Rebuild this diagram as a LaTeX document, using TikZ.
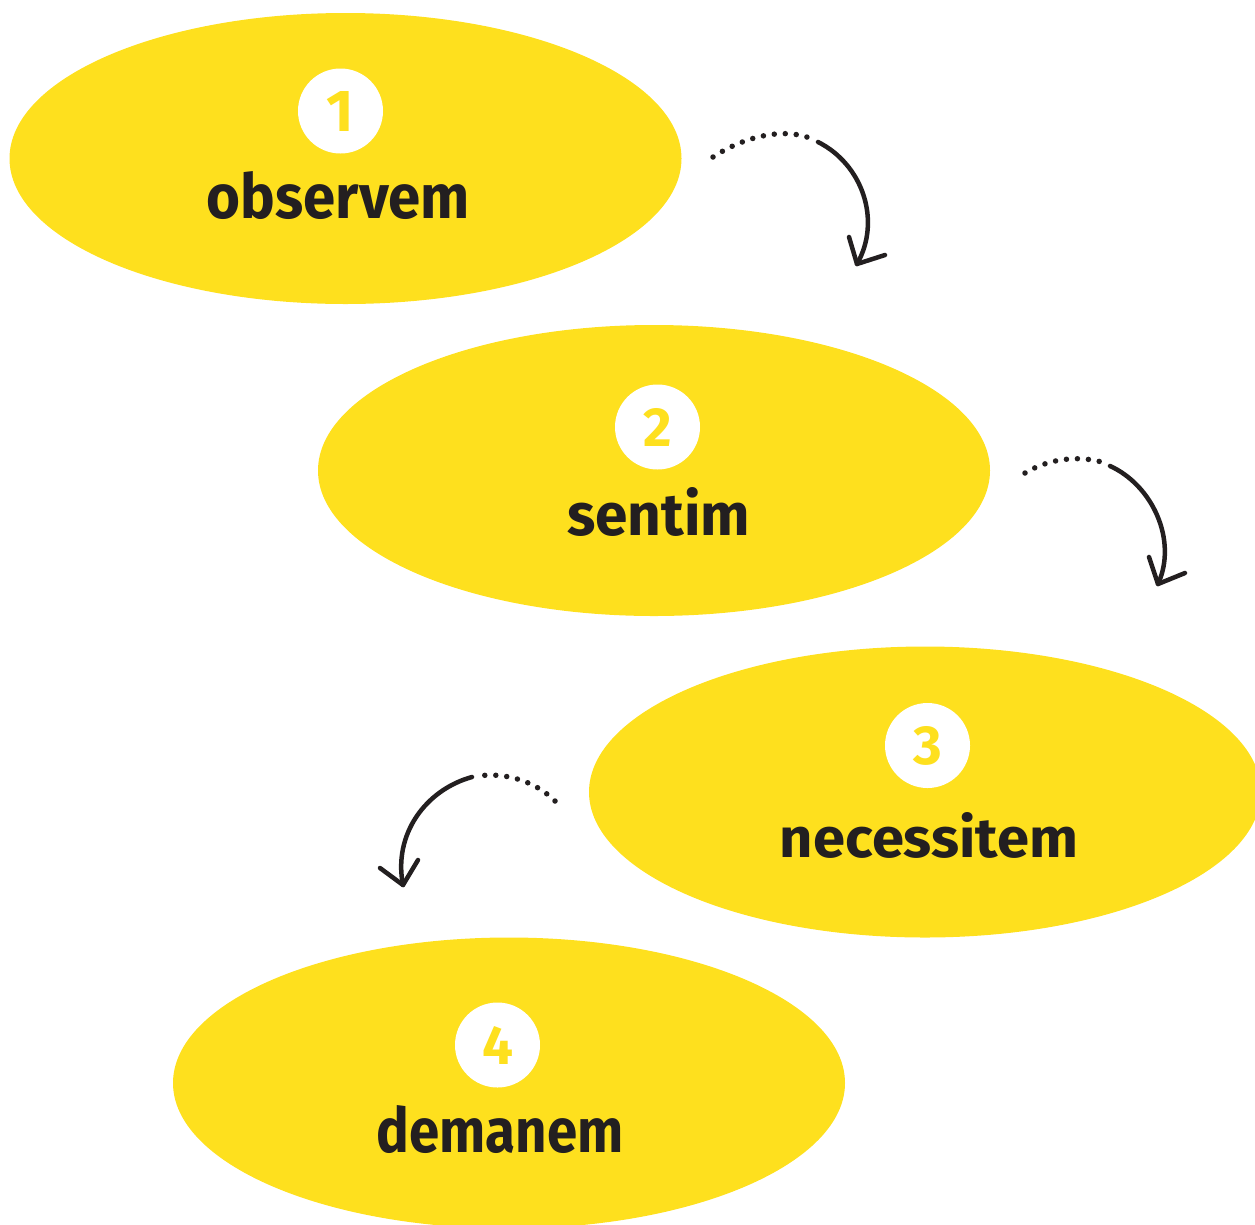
\documentclass[tikz,border=0pt]{standalone}
\usepackage{fontspec}
\setmainfont{Fira Sans}
\usetikzlibrary{shapes.geometric}
\definecolor{sun}{HTML}{FEE01E}
\definecolor{ink}{HTML}{231F20}
\tikzset{
  blob/.style={ellipse, fill=sun, draw=none, minimum width=672pt, minimum height=291pt, inner sep=0pt},
  badge/.style={circle, fill=white, draw=none, minimum size=85pt, inner sep=0pt, text=sun, font=\bfseries},
  word/.style={inner sep=0pt, text=ink, font=\bfseries},
  dots/.style={ink, line width=5.5pt, line cap=round, dash pattern=on 0pt off 11pt},
  stroke/.style={ink, line width=4.5pt, line cap=round, line join=round},
}
\begin{document}
\begin{tikzpicture}[x=1pt, y=-1pt]
\useasboundingbox (0,0) rectangle (1255,1224);
\clip (0,0) rectangle (1255,1224);
% ellipses
\node[blob] (e1) at (345.5,158.5) {};
\node[blob] (e2) at (654,470.5) {};
\node[blob] (e3) at (925,792) {};
\node[blob] (e4) at (509,1083) {};
% number badges
\node[badge] (c1) at (340.5,111) {\resizebox{!}{40pt}{1}};
\node[badge] (c2) at (657.5,427) {\resizebox{!}{38pt}{2}};
\node[badge] (c3) at (927.5,745.5) {\resizebox{!}{38pt}{3}};
\node[badge] (c4) at (497.5,1045) {\resizebox{!}{38pt}{4}};
% words
\node[word, anchor=base] (t1) at (338.5,218) {\resizebox{263pt}{47pt}{observem}};
\node[word, anchor=base] (t2) at (658.5,535) {\resizebox{183pt}{48pt}{sentim}};
\node[word, anchor=base] (t3) at (929,857) {\resizebox{298pt}{45pt}{necessitem}};
\node[word, anchor=base] (t4) at (500,1152) {\resizebox{247pt}{47pt}{demanem}};
% arrow 1
\coordinate (a1s) at (713,157);
\coordinate (a1m) at (812,139);
\coordinate (a1n) at (818,142);
\coordinate (a1t) at (857,264);
\coordinate (a1l) at (849,237);
\coordinate (a1r) at (885,255);
\draw[dots] (a1s) .. controls (745,136) and (785,127) .. (a1m);
\draw[stroke] (a1n) .. controls (862,164) and (882,220) .. (a1t);
\draw[stroke] (a1l) -- (a1t) -- (a1r);
% arrow 2
\coordinate (a2s) at (1025,473);
\coordinate (a2m) at (1105,463);
\coordinate (a2n) at (1110,466);
\coordinate (a2t) at (1158,584);
\coordinate (a2l) at (1149,557);
\coordinate (a2r) at (1185,573);
\draw[dots] (a2s) .. controls (1050,458) and (1080,455) .. (a2m);
\draw[stroke] (a2n) .. controls (1152,485) and (1178,540) .. (a2t);
\draw[stroke] (a2l) -- (a2t) -- (a2r);
% arrow 3
\coordinate (a3s) at (555,801);
\coordinate (a3m) at (478,776);
\coordinate (a3n) at (472,777);
\coordinate (a3t) at (403,885);
\coordinate (a3l) at (380,868);
\coordinate (a3r) at (418,860);
\draw[dots] (a3s) .. controls (535,781) and (505,772) .. (a3m);
\draw[stroke] (a3n) .. controls (425,790) and (393,835) .. (a3t);
\draw[stroke] (a3l) -- (a3t) -- (a3r);
\end{tikzpicture}
\end{document}
